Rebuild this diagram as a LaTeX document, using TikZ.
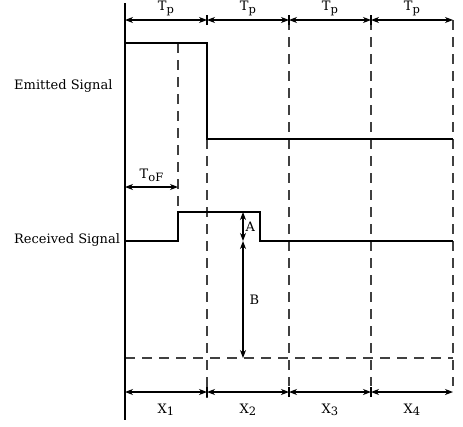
\documentclass[tikz,border=0pt]{standalone}
\usepackage{fontspec}
\setmainfont{DejaVu Serif}
\usetikzlibrary{arrows.meta}
\tikzset{
  axis/.style={line width=2pt},
  sig/.style={line width=1.2pt},
  grid/.style={line width=1.1pt, dash pattern=on 10pt off 7pt, black!75},
  dim/.style={line width=1.1pt, {Stealth[length=8pt,width=6pt,inset=2.5pt]}-{Stealth[length=8pt,width=6pt,inset=2.5pt]}},
  lbl/.style={font=\fontsize{13}{15}\selectfont, inner sep=0pt},
}
\newcommand{\subtxt}[2]{#1\raisebox{-2.5pt}{\fontsize{11.5}{13}\selectfont #2}}
\begin{document}
\begin{tikzpicture}[x=1pt,y=-1pt]
\useasboundingbox (0,0) rectangle (463,426);
% reference points
\coordinate (top) at (125,3);
\coordinate (bot) at (125,420);
\foreach \n/\x in {0/125,1/207,2/289,3/371,4/453}{
  \coordinate (t\n) at (\x,20);
  \coordinate (b\n) at (\x,392);
  \coordinate (g\n) at (\x,358);
}
% vertical grid lines
\coordinate (tofTop) at (178,43);
\coordinate (tofBot) at (178,212);
\draw[grid] (tofTop) -- (tofBot);
\coordinate (e1d) at (207,139);
\draw[grid] (e1d) -- (207,398);
\foreach \n in {2,3,4} \draw[grid] (t\n) -- ([yshift=6pt]b\n);
% horizontal dashed baseline
\draw[grid] (g0) -- (g4);
% time axis
\draw[axis] (top) -- (bot);
% emitted signal
\coordinate (e0) at (125,43);
\coordinate (e1) at (207,43);
\coordinate (e2) at (453,139);
\draw[sig] (e0) -- (e1) -- (e1d) -- (e2);
% received signal
\coordinate (r0) at (125,241);
\coordinate (r1) at (178,241);
\coordinate (r2) at (178,212);
\coordinate (r3) at (260,212);
\coordinate (r4) at (260,241);
\coordinate (r5) at (453,241);
\draw[sig] (r0) -- (r1) -- (r2) -- (r3) -- (r4) -- (r5);
% period dimensions
\foreach \a/\b in {0/1,1/2,2/3,3/4}{
  \draw[dim] (t\a) -- node[lbl, above=4pt] {\subtxt{T}{p}} (t\b);
  \draw[dim] (b\a) -- node[lbl, below=11pt] {\subtxt{X}{\the\numexpr\b\relax}} (b\b);
}
\foreach \n in {1,2,3}{
  \draw[line width=1.1pt] ([yshift=-5pt]t\n) -- ([yshift=5pt]t\n);
  \draw[line width=1.1pt] ([yshift=-5pt]b\n) -- ([yshift=5pt]b\n);
}
% time of flight
\coordinate (tof0) at (125,187);
\coordinate (tof1) at (178,187);
\draw[dim] (tof0) -- node[lbl, above=5pt] {\subtxt{T}{oF}} (tof1);
% amplitudes
\coordinate (aTop) at (243,212);
\coordinate (aMid) at (243,241);
\coordinate (aBot) at (243,358);
\draw[dim] (aTop) -- node[lbl, right=2pt] {A} (aMid);
\draw[dim] (aMid) -- node[lbl, right=6pt] {B} (aBot);
% signal names
\node[lbl, anchor=west] (em) at (14,86) {Emitted Signal};
\node[lbl, anchor=west] (rx) at (14,240) {Received Signal};
\end{tikzpicture}
\end{document}
